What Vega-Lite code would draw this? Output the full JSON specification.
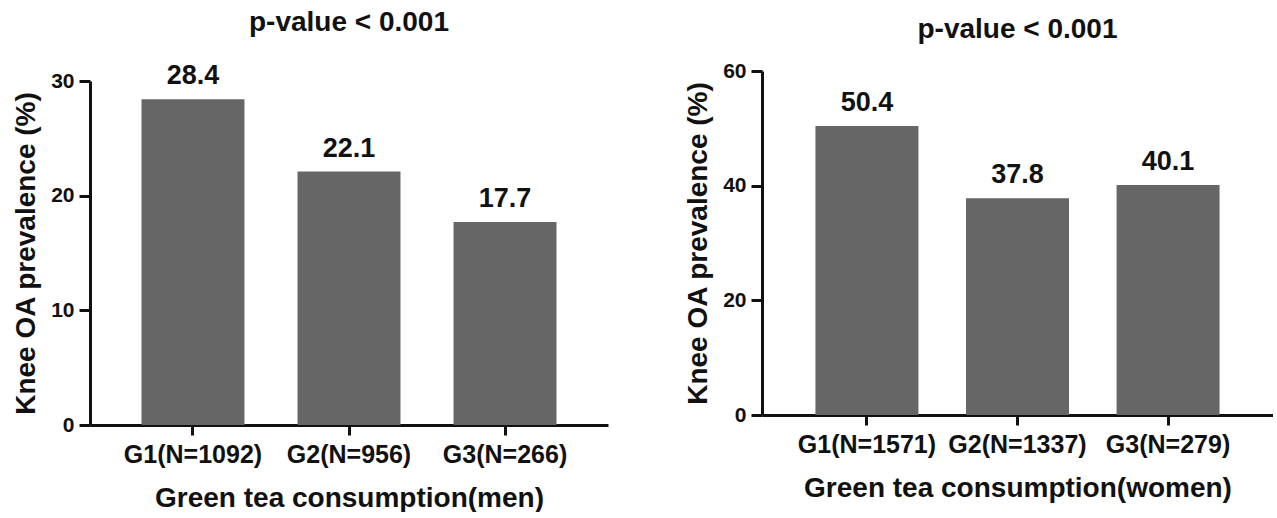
{
  "$schema": "https://vega.github.io/schema/vega-lite/v6.json",
  "background": "white",
  "padding": {"left": 12, "top": 9, "right": 0, "bottom": 0},
  "datasets": {
    "men": [
      {"group": "G1(N=1092)", "prevalence": 28.4},
      {"group": "G2(N=956)", "prevalence": 22.1},
      {"group": "G3(N=266)", "prevalence": 17.7}
    ],
    "women": [
      {"group": "G1(N=1571)", "prevalence": 50.4},
      {"group": "G2(N=1337)", "prevalence": 37.8},
      {"group": "G3(N=279)", "prevalence": 40.1}
    ]
  },
  "config": {
    "font": "Liberation Sans",
    "view": {"stroke": null},
    "axis": {
      "domainColor": "#111111", "domainWidth": 3, "tickColor": "#111111", "tickWidth": 3, "tickSize": 10,
      "grid": false, "labelFont": "Liberation Sans", "labelFontWeight": "bold", "labelColor": "#111111",
      "titleFont": "Liberation Sans", "titleFontWeight": "bold", "titleColor": "#111111", "titleFontSize": 28,
      "labelOverlap": false
    },
    "axisX": {"labelFontSize": 25, "labelAngle": 0, "labelPadding": 7, "titlePadding": 17},
    "axisY": {"labelFontSize": 21, "labelPadding": 5, "titlePadding": 10, "tickSize": 11},
    "title": {"font": "Liberation Sans", "fontSize": 28, "fontWeight": "bold", "color": "#111111", "anchor": "middle"},
    "bar": {"color": "#666666"}
  },
  "spacing": 76,
  "hconcat": [
    {
      "title": {"text": "p-value < 0.001", "offset": 25},
      "width": 518, "height": 354,
      "data": {"name": "men"},
      "encoding": {
        "x": {"field": "group", "type": "nominal", "sort": null, "title": "Green tea consumption(men)",
              "scale": {"paddingInner": 0.34, "paddingOuter": 0.33}},
        "y": {"field": "prevalence", "type": "quantitative", "scale": {"domain": [0, 30], "nice": false, "range": [354, 10]},
              "axis": {"values": [0, 10, 20, 30], "title": "Knee OA prevalence (%)"}}
      },
      "layer": [
        {"mark": {"type": "bar"}},
        {"mark": {"type": "text", "dy": -15, "baseline": "alphabetic", "fontSize": 27, "fontWeight": "bold", "color": "#111111"},
         "encoding": {"text": {"field": "prevalence", "type": "quantitative", "format": ".1f"}}}
      ]
    },
    {
      "title": {"text": "p-value < 0.001", "offset": 16},
      "width": 511, "height": 344,
      "data": {"name": "women"},
      "encoding": {
        "x": {"field": "group", "type": "nominal", "sort": null, "title": "Green tea consumption(women)",
              "scale": {"paddingInner": 0.316, "paddingOuter": 0.355}},
        "y": {"field": "prevalence", "type": "quantitative", "scale": {"domain": [0, 60], "nice": false},
              "axis": {"values": [0, 20, 40, 60], "title": "Knee OA prevalence (%)"}}
      },
      "layer": [
        {"mark": {"type": "bar"}},
        {"mark": {"type": "text", "dy": -15, "baseline": "alphabetic", "fontSize": 27, "fontWeight": "bold", "color": "#111111"},
         "encoding": {"text": {"field": "prevalence", "type": "quantitative", "format": ".1f"}}}
      ]
    }
  ]
}
